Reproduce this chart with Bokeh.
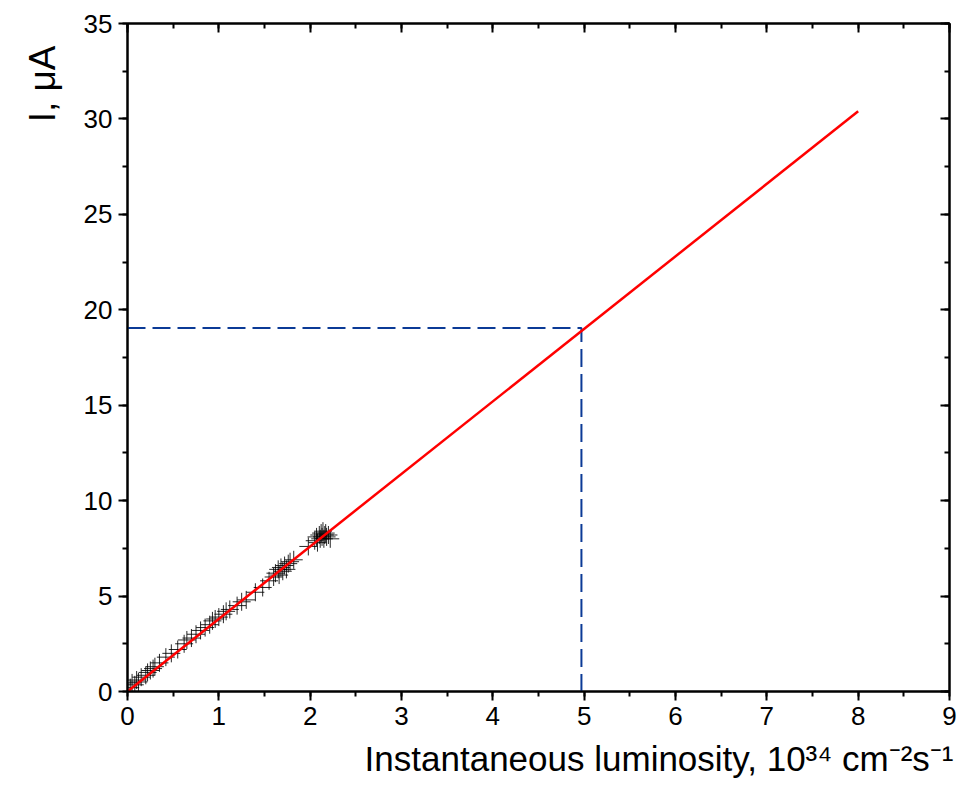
from bokeh.plotting import figure
from bokeh.models import LinearAxis, Title, Range1d, FixedTicker
from bokeh.embed import file_html
from bokeh.resources import INLINE

# measured current vs luminosity
lumi = [0.03, 0.05, 0.08, 0.10, 0.12, 0.15, 0.20, 0.22, 0.25, 0.28, 0.30, 0.35, 0.42, 0.48,
        0.55, 0.62, 0.65, 0.70, 0.75, 0.80, 0.85, 0.90, 0.93, 0.96, 1.00, 1.05, 1.08, 1.12,
        1.20, 1.25, 1.30, 1.40, 1.48, 1.55, 1.60, 1.62, 1.65, 1.66, 1.68, 1.70, 1.72, 1.74,
        1.76, 1.78, 1.82, 1.98, 2.05, 2.07, 2.08, 2.10, 2.11, 2.12, 2.13, 2.14, 2.15, 2.16,
        2.17, 2.18, 2.20, 2.22]
current = [0.20, 0.45, 0.35, 0.60, 0.50, 0.75, 0.85, 1.00, 1.10, 1.20, 1.30, 1.50, 1.80, 2.00,
           2.20, 2.50, 2.70, 2.80, 3.00, 3.20, 3.35, 3.50, 3.70, 3.80, 3.90, 4.05, 4.20, 4.30,
           4.50, 4.70, 4.80, 5.20, 5.45, 5.80, 6.00, 6.20, 6.40, 6.10, 6.50, 6.30, 6.60, 6.40,
           6.70, 6.80, 6.90, 7.60, 7.90, 8.10, 7.80, 8.20, 8.00, 8.30, 8.10, 8.40, 8.00, 8.20,
           8.30, 8.10, 8.20, 8.00]

# linear fit
fit_x = [0.0, 8.0]
fit_y = [0.0, 30.4]

# extrapolation guide at 5e34
guide_x = [0.0, 4.97, 4.97]
guide_y = [19.05, 19.05, 0.0]

x_ticks = [0, 1, 2, 3, 4, 5, 6, 7, 8, 9]
y_ticks = [0, 5, 10, 15, 20, 25, 30, 35]

FONT = "Liberation Sans"

p = figure(width=958, height=787, output_backend="svg", toolbar_location=None,
           x_range=Range1d(0, 9), y_range=Range1d(0, 35),
           x_axis_location=None, y_axis_location=None,
           min_border_left=127, min_border_right=9, min_border_top=23, min_border_bottom=96)
p.grid.visible = False
p.outline_line_color = "black"
p.outline_line_width = 2
p.background_fill_color = "white"
p.border_fill_color = "white"

def mk_axis(ticks, minor, inward=False):
    ax = LinearAxis(ticker=FixedTicker(ticks=ticks, minor_ticks=minor))
    ax.axis_line_width = 2
    ax.axis_line_color = "black"
    ax.major_tick_line_width = 2
    ax.minor_tick_line_width = 2
    if inward:
        ax.major_tick_in = 9
        ax.major_tick_out = 0
        ax.minor_tick_in = 5
        ax.minor_tick_out = 0
        ax.major_label_text_font_size = "0px"
        ax.major_label_standoff = 0
        ax.major_label_text_alpha = 0
    else:
        ax.major_tick_in = 0
        ax.major_tick_out = 9
        ax.minor_tick_in = 0
        ax.minor_tick_out = 5
        ax.major_label_text_font = FONT
        ax.major_label_text_font_size = "26px"
        ax.major_label_text_color = "black"
        ax.major_label_standoff = 6
    return ax

x_minor = [i * 0.5 for i in range(19)]
y_minor = [i * 2.5 for i in range(15)]

p.add_layout(mk_axis(x_ticks, x_minor), "below")
p.add_layout(mk_axis(y_ticks, y_minor), "left")
p.add_layout(mk_axis(x_ticks, x_minor, inward=True), "above")
p.add_layout(mk_axis(y_ticks, y_minor, inward=True), "right")

p.add_layout(Title(text="Instantaneous luminosity, 10³⁴ cm⁻²s⁻¹", align="right",
                   text_font=FONT, text_font_size="35px", text_font_style="normal",
                   text_color="black", standoff=19, offset=-4), "below")
p.add_layout(Title(text="I, μA", align="right", text_font=FONT, text_font_size="37px",
                   text_font_style="normal", text_color="black", offset=22, standoff=36), "left")

p.line(guide_x, guide_y, line_color="#0B3A96", line_width=2, line_dash="18 7")
p.scatter(lumi, current, marker="cross", size=18, line_color="black", line_width=1, line_alpha=0.85)
p.line(fit_x, fit_y, line_color="#FF0000", line_width=2.5)

open("out.html", "w").write(file_html(p, INLINE))
